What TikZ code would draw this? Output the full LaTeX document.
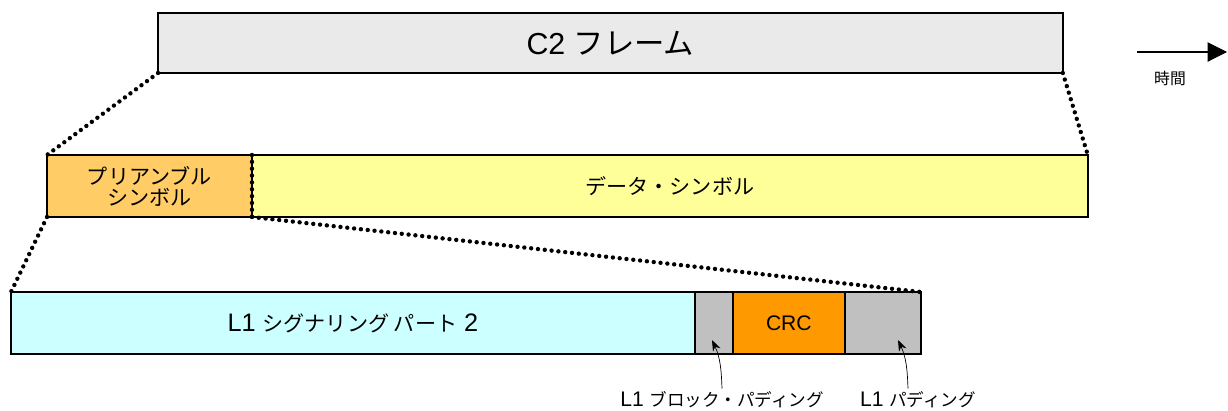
\documentclass[tikz,border=0pt]{standalone}
\usepackage{fontspec}
\setmainfont{Liberation Sans}
\newfontfamily\jp{Noto Sans CJK JP}
\usetikzlibrary{positioning, arrows.meta}

\definecolor{frameGray}{HTML}{EAEAEA}
\definecolor{preOrange}{HTML}{FFCC66}
\definecolor{dataYellow}{HTML}{FFFF99}
\definecolor{sigCyan}{HTML}{CCFFFF}
\definecolor{padGray}{HTML}{C0C0C0}
\definecolor{crcOrange}{HTML}{FF9900}

\begin{document}
\begin{tikzpicture}[
    x=0.02cm, y=-0.02cm,
    node distance=0pt,
    field/.style={
        draw, line width=0.8pt, align=center, inner sep=0pt, outer sep=0pt,
        minimum height=1.24cm, font=\large
    },
    zoomline/.style={line width=2.5pt, line cap=round, dash pattern=on 0pt off 3.9pt},
    annot/.style={-{Stealth[length=2.2mm, width=1.6mm]}, line width=0.4pt},
    note/.style={font=\large, inner sep=1pt},
]
\useasboundingbox (0,0) rectangle (1228,410);

% --- C2 frame ---
\node[field, fill=frameGray, anchor=north west, minimum width=18.1cm,
      minimum height=1.2cm, font=\LARGE] (c2) at (158,13) {C2 {\jp フレーム}};

% --- preamble and data symbols ---
\node[field, fill=preOrange, anchor=north west, minimum width=4.1cm] (pre) at (47,155)
    {\jp プリアンブル\\[-2pt]\jp シンボル};
\node[field, fill=dataYellow, minimum width=16.72cm, right=of pre] (data) {\jp データ・シンボル};

% --- L1 signalling part 2 ---
\node[field, fill=sigCyan, anchor=north west, minimum width=13.68cm, font=\Large] (sig) at (11,292)
    {L1 {\jp\large シグナリング パート} 2};
\node[field, fill=padGray, minimum width=0.76cm, right=of sig] (bpad) {};
\node[field, fill=crcOrange, minimum width=2.24cm, right=of bpad] (crc) {CRC};
\node[field, fill=padGray, minimum width=1.52cm, right=of crc] (pad) {};

% --- zoom lines ---
\draw[zoomline] (c2.south west) -- (pre.north west);
\draw[zoomline] (c2.south east) -- (data.north east);
\draw[zoomline] (pre.south west) -- (sig.north west);
\draw[zoomline] (pre.south east) -- (pad.north east);
\draw[zoomline] (pre.north east) -- (pre.south east);

% --- time axis ---
\coordinate (t0) at (1137,52);
\coordinate (t1) at (1227,52);
\draw[-{Triangle[length=11pt, width=11pt]}, line width=0.6pt] (t0) -- (t1);
\node[note, font=\jp\small] (time) at (1170,78) {時間};

% --- padding labels ---
\node[note] (lbpad) at (722,400) {L1 {\jp\normalsize ブロック・パディング}};
\node[note] (lpad) at (918,400) {L1 {\jp\normalsize パディング}};
\coordinate (bptip) at (712,340);
\coordinate (ptip) at (898,340);
\draw[annot] (lbpad.north) ++(0,-1) to[out=92, in=-65] (bptip);
\draw[annot] (lpad.north) ++(-10,-1) to[out=92, in=-65] (ptip);

\end{tikzpicture}
\end{document}
